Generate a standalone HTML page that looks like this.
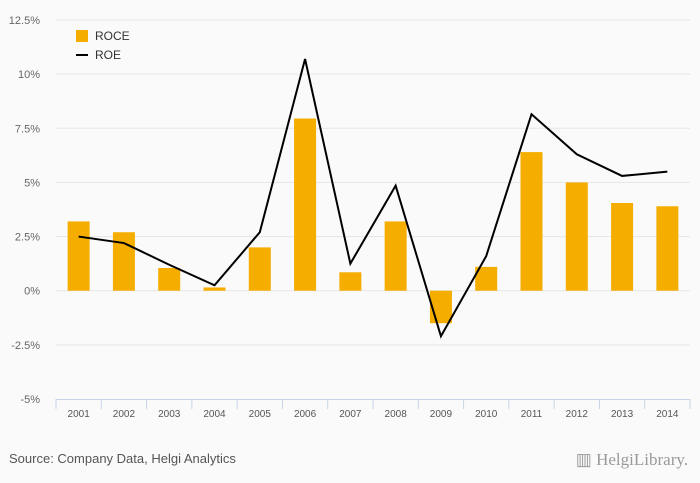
<!DOCTYPE html>
<html><head><meta charset="utf-8"><style>
body{margin:0;width:700px;height:483px;background:#fafafa;font-family:"Liberation Sans",sans-serif;overflow:hidden}
svg{display:block}
</style></head><body>
<svg id="chart" width="700" height="483">
<rect x="0" y="0" width="700" height="483" fill="#fafafa"/>
<g id="grid"></g><g id="bars"></g><g id="line"></g><g id="axes"></g>
<g>
<rect x="76" y="30" width="12" height="12" fill="#f5ae00"/>
<text x="95" y="40" font-size="12" fill="#333">ROCE</text>
<line x1="76" y1="55" x2="88" y2="55" stroke="#000" stroke-width="2"/>
<text x="95" y="59" font-size="12" fill="#333">ROE</text>
</g>
<text x="9" y="463" font-size="13" fill="#555">Source: Company Data, Helgi Analytics</text>
<text x="688" y="465" font-size="17" fill="#999" text-anchor="end" font-family="Liberation Serif,serif">▥ HelgiLibrary.</text>
</svg>
<script>
const categories=["2001","2002","2003","2004","2005","2006","2007","2008","2009","2010","2011","2012","2013","2014"];
const roce=[3.2,2.7,1.05,0.15,2.0,7.95,0.85,3.2,-1.5,1.1,6.4,5.0,4.05,3.9];
const roe=[2.5,2.2,1.2,0.25,2.7,10.7,1.25,4.85,-2.1,1.6,8.15,6.3,5.3,5.5];
const yTicks=[-5,-2.5,0,2.5,5,7.5,10,12.5];
const yTickLabels=["-5%","-2.5%","0%","2.5%","5%","7.5%","10%","12.5%"];
const NS="http://www.w3.org/2000/svg";
const x0=56,x1=690,yTop=20,yBot=399,vMin=-5,vMax=12.5;
const band=(x1-x0)/categories.length;
const y=v=>yBot-(v-vMin)/(vMax-vMin)*(yBot-yTop);
const xc=i=>x0+band*(i+0.5);
function mk(t,a,p){const e=document.createElementNS(NS,t);for(const k in a)e.setAttribute(k,a[k]);p.appendChild(e);return e;}
const grid=document.getElementById('grid'),bars=document.getElementById('bars'),line=document.getElementById('line'),axes=document.getElementById('axes');
yTicks.forEach((v,i)=>{
 if(v!==vMin){const g=mk('line',{x1:x0,x2:x1,y1:y(v),y2:y(v),stroke:'#e6e6e6','stroke-width':1},grid);
 
 }
 const t=mk('text',{x:40,y:y(v)+4,'font-size':11,fill:'#666','text-anchor':'end'},axes);
 t.textContent=yTickLabels[i];
 
 
});
const ax=mk('line',{x1:x0,x2:x1,y1:yBot+0.5,y2:yBot+0.5,stroke:'#c8d4e6'},axes);


for(let i=0;i<=categories.length;i++){const tk=mk('line',{x1:x0+band*i,x2:x0+band*i,y1:yBot,y2:yBot+10,stroke:'#c8d4e6'},axes);
 
 }
categories.forEach((c,i)=>{
 const t=mk('text',{x:xc(i),y:yBot+18,'font-size':10,fill:'#555','text-anchor':'middle'},axes);
 t.textContent=c;
 
 
 const v=roce[i];const bw=22;
 const r=mk('rect',{x:xc(i)-bw/2,y:Math.min(y(v),y(0)),width:bw,height:Math.abs(y(v)-y(0)),fill:'#f5ae00'},bars);
 
 
});
const p=mk('polyline',{points:roe.map((v,i)=>xc(i)+','+y(v)).join(' '),fill:'none',stroke:'#000','stroke-width':2,'stroke-linejoin':'miter'},line);


</script>
</body></html>
